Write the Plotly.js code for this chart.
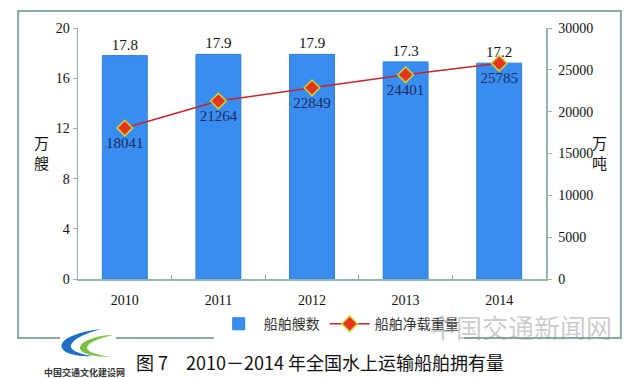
<!DOCTYPE html>
<html><head><meta charset="utf-8">
<script src="https://cdn.plot.ly/plotly-3.0.1.min.js"></script>
<style>html,body{margin:0;padding:0;background:#fff;}#c{width:630px;height:378px;}</style>
</head><body><div id="c"></div>
<script>
const years = ['2010','2011','2012','2013','2014'];
const shipCount = [17.8, 17.9, 17.9, 17.3, 17.2];
const deadweight = [18041, 21264, 22849, 24401, 25785];
const leftTicks = [0,4,8,12,16,20];
const rightTicks = [0,5000,10000,15000,20000,25000,30000];

const serif = 'Liberation Serif, Times New Roman, serif';
const cjk = 'Noto Sans CJK SC, sans-serif';

const traces = [
  {type:'bar', x:years, y:shipCount, name:'船舶艘数', marker:{color:'#3a8df0', line:{color:'#2f7fe0', width:1}},
   width:0.48, text:shipCount.map(v=>v.toFixed(1)), textposition:'outside', cliponaxis:false,
   textfont:{family:serif, size:15, color:'#111'}, hoverinfo:'skip'},
  {type:'scatter', mode:'lines+markers+text', x:years, y:deadweight, yaxis:'y2', name:'船舶净载重量',
   line:{color:'#c4262c', width:1.5}, marker:{symbol:'diamond', size:12, color:'#e8341c', line:{color:'#c9d63a', width:1.5}},
   text:deadweight.map(String), textposition:'bottom center', cliponaxis:false,
   textfont:{family:serif, size:15, color:'#1c2b5e'}, hoverinfo:'skip'}
];

const axisColor = '#93b5ab';
const tf = {family:serif, size:14, color:'#111'};
const layout = {
  width:630, height:378, margin:{l:78, r:84, t:28, b:99},
  paper_bgcolor:'#fff', plot_bgcolor:'#fff', showlegend:true,
  font:{family:serif, size:14, color:'#111'},
  xaxis:{type:'category', showline:true, linecolor:axisColor, linewidth:1.5, ticks:'inside', tickson:'boundaries',
         ticklen:4, tickcolor:'#999', showgrid:false, tickfont:tf, ticklabelstandoff:8},
  yaxis:{range:[0,20], tickvals:leftTicks, ticktext:leftTicks.map(String), showline:true, linecolor:axisColor, linewidth:1.5,
         ticks:'outside', ticklen:4, tickcolor:'#aaa', showgrid:false, zeroline:false, tickfont:tf},
  yaxis2:{range:[0,30000], tickvals:rightTicks, ticktext:rightTicks.map(String), overlaying:'y', side:'right', showline:true,
          linecolor:axisColor, linewidth:1.5, ticks:'outside', ticklen:4, tickcolor:'#aaa', showgrid:false, zeroline:false,
          tickfont:tf, ticklabelstandoff:4},
  legend:{orientation:'h', x:0.29, y:-0.18, xanchor:'left', yanchor:'middle', font:{family:cjk, size:14, color:'#333'},
          itemwidth:40, traceorder:'normal'},
  shapes:[
    {type:'rect', xref:'paper', yref:'paper', x0:-0.128, x1:1.160, y0:-0.235, y1:1.068, line:{color:'#86ab9f', width:2}, layer:'below'},
    {type:'rect', xref:'paper', yref:'paper', xsizemode:'pixel', ysizemode:'pixel', xanchor:0.0256, yanchor:-0.263,
     x0:-30, x1:26, y0:-13, y1:18, fillcolor:'#fff', line:{width:0}},
    {type:'path', xref:'paper', yref:'paper', xsizemode:'pixel', ysizemode:'pixel', xanchor:0.0256, yanchor:-0.263,
     path:'M 12 16 C -10 14 -32 6 -28 -3 C -26 -9 -10 -12 2 -11 C -10 -9 -21 -5 -19 0 C -17 6 -4 12 12 16 Z',
     fillcolor:'#1f6fc8', line:{width:0}},
    {type:'path', xref:'paper', yref:'paper', xsizemode:'pixel', ysizemode:'pixel', xanchor:0.0256, yanchor:-0.263,
     path:'M 23 10 C 8 10 -10 4 -10 -3 C -10 -9 6 -12 20 -12 C 8 -10 -3 -7 -3 -3 C -3 2 10 7 23 10 Z',
     fillcolor:'#7cc242', line:{width:0}}
  ],
  annotations:[
    {text:'万<br>艘', xref:'paper', yref:'paper', x:(32-78)/468, y:(279-152)/251, showarrow:false, font:{family:cjk, size:15, color:'#111'}},
    {text:'万<br>吨', xref:'paper', yref:'paper', x:(609-78)/468, y:(279-152)/251, showarrow:false, font:{family:cjk, size:15, color:'#111'}},
    {text:'中国交通新闻网', xref:'paper', yref:'paper', x:(521-78)/468, y:(279-326)/251, xanchor:'center', yanchor:'middle', showarrow:false,
     font:{family:cjk, size:26, color:'rgba(140,140,140,0.45)'}},
    {text:'图 7　2010－2014 年全国水上运输船舶拥有量', xref:'paper', yref:'paper', x:(320-78)/468, y:(279-362)/251,
     xanchor:'center', yanchor:'middle', showarrow:false, font:{family:cjk, size:18, color:'#111'}},
    {text:'<b>中国交通文化建设网</b>', xref:'paper', yref:'paper', x:(84-78)/468, y:(279-372)/251, xanchor:'center', yanchor:'middle',
     showarrow:false, font:{family:cjk, size:9, color:'#333'}}
  ]
};
Plotly.newPlot('c', traces, layout, {staticPlot:true, displayModeBar:false});
</script></body></html>
